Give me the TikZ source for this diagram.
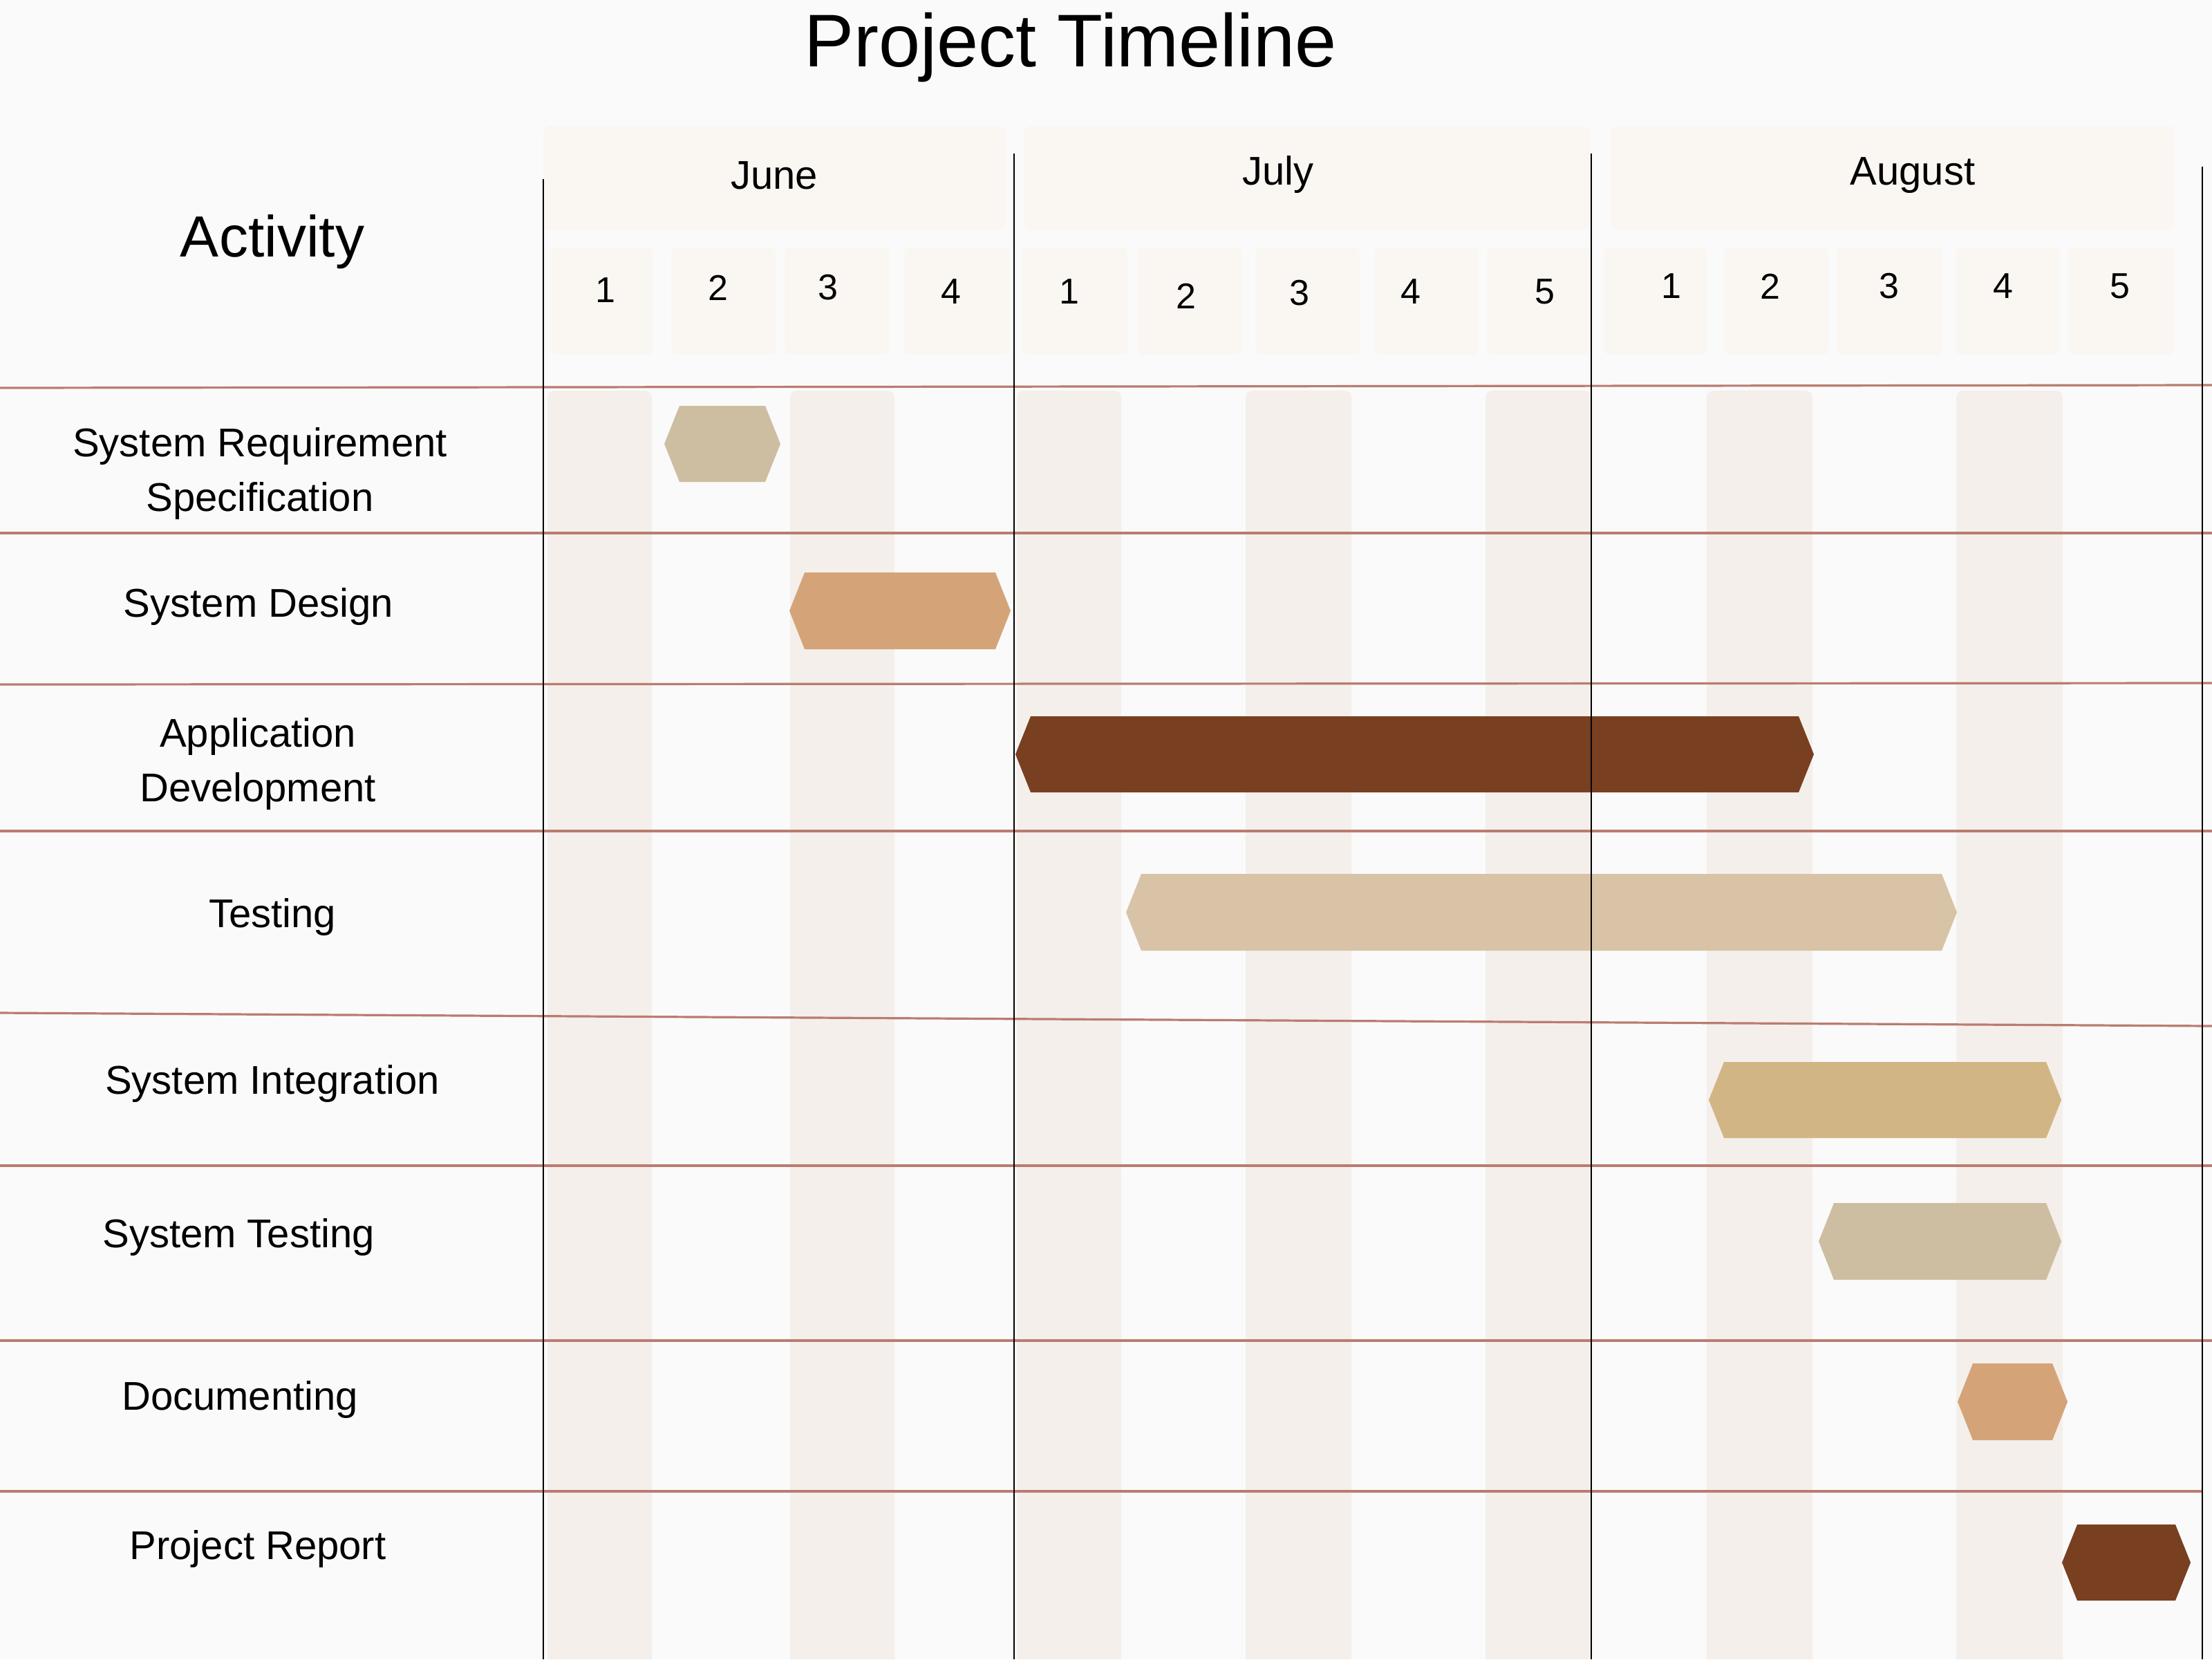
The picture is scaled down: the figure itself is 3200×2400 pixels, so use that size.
\documentclass[tikz,border=0pt]{standalone}
\usepackage{fontspec}
\setmainfont{Liberation Sans}
\definecolor{bg}{HTML}{FAFAFA}
\definecolor{hdr}{HTML}{FAF7F3}
\definecolor{stripe}{HTML}{F4EFEB}
\definecolor{rule}{HTML}{BA7C70}
\definecolor{cA}{HTML}{CDBEA2}
\definecolor{cB}{HTML}{D4A478}
\definecolor{cC}{HTML}{783F21}
\definecolor{cD}{HTML}{D9C3A6}
\definecolor{cE}{HTML}{D2B584}
\newcommand{\ganttbar}[6]{%
  \fill[#6] (#2,{(#4+#5)/2}) -- (#2+22,#4) -- (#3-22,#4) -- (#3,{(#4+#5)/2}) -- (#3-22,#5) -- (#2+22,#5) -- cycle;
  \coordinate (#1) at ({(#2+#3)/2},{(#4+#5)/2});}
\newcommand{\weekbox}[2]{\fill[hdr, rounded corners=2pt] (#1,358) rectangle (#2,513);}
\newcommand{\stripecol}[2]{\fill[stripe] (#1,2400) [rounded corners=2.5pt] -- (#1,565) -- (#2,565) [sharp corners] -- (#2,2400) -- cycle;}
\begin{document}
\begin{tikzpicture}[x=0.25pt,y=-0.25pt,
  lbl/.style={font=\fontsize{14.5}{19.75}\selectfont, align=center, anchor=base, inner sep=0},
  wk/.style={font=\fontsize{13}{15}\selectfont, inner sep=0},
  mon/.style={font=\fontsize{14.5}{17}\selectfont, anchor=base, inner sep=0},
  redrule/.style={rule, line width=0.8pt},
  vline/.style={black, line width=0.7pt}]
\useasboundingbox (0,0) rectangle (3200,2400);
\fill[bg] (0,0) rectangle (3200,2400);
% header boxes
\fill[hdr, rounded corners=2.5pt] (786,182) rectangle (1455,333);
\fill[hdr, rounded corners=2.5pt] (1482,182) rectangle (2300,333);
\fill[hdr, rounded corners=2.5pt] (2330,182) rectangle (3145,333);
\weekbox{796}{945}\weekbox{971}{1122}\weekbox{1135}{1286}\weekbox{1308}{1461}
\weekbox{1478}{1631}\weekbox{1645}{1796}\weekbox{1816}{1967}\weekbox{1988}{2139}\weekbox{2151}{2302}
\weekbox{2320}{2469}\weekbox{2494}{2645}\weekbox{2657}{2810}\weekbox{2829}{2980}\weekbox{2992}{3145}
% stripes
\stripecol{792}{943}\stripecol{1143}{1294}\stripecol{1471}{1622}\stripecol{1802}{1955}
\stripecol{2149}{2302}\stripecol{2469}{2622}\stripecol{2830}{2984}
% row rules
\draw[redrule] (0,561) -- (3200,557);
\draw[redrule] (0,771) -- (3200,771);
\draw[redrule] (0,990) -- (3200,988);
\draw[redrule] (0,1202) -- (3200,1202);
\draw[redrule] (0,1465) -- (3200,1484);
\draw[redrule] (0,1686) -- (3200,1686);
\draw[redrule] (0,1939) -- (3200,1939);
\draw[redrule] (0,2157) -- (3186,2157);
% bars
\ganttbar{b1}{961}{1129}{587}{697}{cA}
\ganttbar{b2}{1142}{1462}{828}{939}{cB}
\ganttbar{b3}{1469}{2624}{1036}{1146}{cC}
\ganttbar{b4}{1629}{2831}{1264}{1375}{cD}
\ganttbar{b5}{2472}{2982}{1536}{1646}{cE}
\ganttbar{b6}{2631}{2982}{1740}{1851}{cA}
\ganttbar{b7}{2832}{2991}{1972}{2083}{cB}
\ganttbar{b8}{2983}{3169}{2205}{2315}{cC}
% month dividers
\draw[vline] (786,259) -- (786,2400);
\draw[vline] (1467,222) -- (1467,2400);
\draw[vline] (2302,222) -- (2302,2400);
\draw[vline] (3186,241) -- (3186,2400);
% texts
\node[font=\fontsize{27}{30}\selectfont, anchor=base, inner sep=0] (title) at (1549,96) {Project Timeline};
\node[font=\fontsize{21}{24}\selectfont, anchor=base, inner sep=0] (activity) at (394,371) {Activity};
\node[mon] (june) at (1120,273) {June};
\node[mon] (july) at (1849,267) {July};
\node[mon] (august) at (2767,267) {August};
\node[wk] (j1) at (876,420) {1};
\node[wk] (j2) at (1039,416) {2};
\node[wk] (j3) at (1198,416) {3};
\node[wk] (j4) at (1376,422) {4};
\node[wk] (l1) at (1547,422) {1};
\node[wk] (l2) at (1716,428) {2};
\node[wk] (l3) at (1880,424) {3};
\node[wk] (l4) at (2041,422) {4};
\node[wk] (l5) at (2235,422) {5};
\node[wk] (a1) at (2418,414) {1};
\node[wk] (a2) at (2561,414) {2};
\node[wk] (a3) at (2733,414) {3};
\node[wk] (a4) at (2898,414) {4};
\node[wk] (a5) at (3067,414) {5};
\node[lbl] (t1) at (376,739) {System Requirement\\Specification};
\node[lbl] (t2) at (374,892) {System Design};
\node[lbl] (t3) at (373,1159) {Application\\Development};
\node[lbl] (t4) at (394,1341) {Testing};
\node[lbl] (t5) at (394,1582) {System Integration};
\node[lbl] (t6) at (345,1804) {System Testing};
\node[lbl] (t7) at (347,2039) {Documenting};
\node[lbl] (t8) at (373,2255) {Project Report};
\end{tikzpicture}
\end{document}
